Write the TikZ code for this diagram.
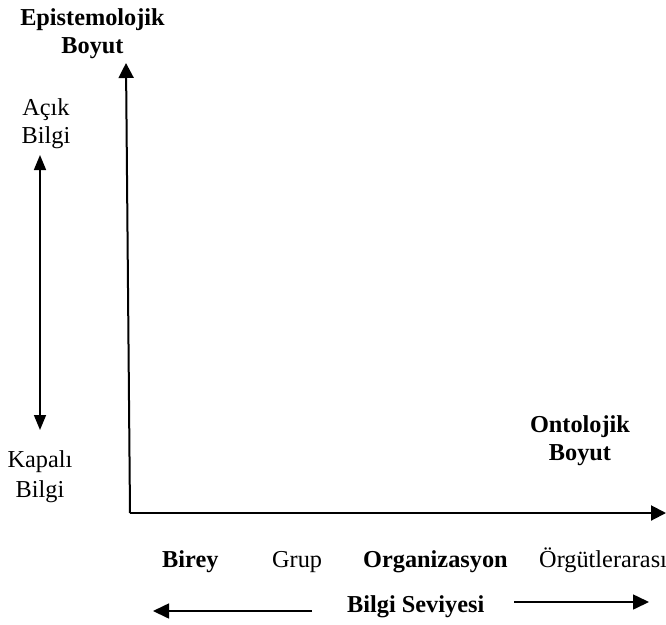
\documentclass[tikz,border=0pt]{standalone}
\usepackage{fontspec}
\setmainfont{Liberation Serif}
\usetikzlibrary{arrows.meta}
\tikzset{
  lbl/.style={font=\fontsize{24.3}{28}\selectfont, inner sep=0pt, align=center},
  blbl/.style={lbl, font=\fontsize{24.3}{28}\selectfont\bfseries},
  axis/.style={line width=2pt, -{Triangle[length=15pt,width=15pt]}},
  dbl/.style={line width=1.6pt, {Triangle[length=15pt,width=12pt]}-{Triangle[length=15pt,width=12pt]}},
  lvl/.style={line width=1.6pt, -{Triangle[length=16pt,width=15pt]}}
}
\begin{document}
\begin{tikzpicture}[x=1pt,y=-1pt]
  \useasboundingbox (0,0) rectangle (666,624);
  % axes
  \coordinate (O) at (130,513);
  \coordinate (ytip) at (126,63);
  \coordinate (xtip) at (666,513);
  \draw[axis] (O) -- (ytip);
  \draw[axis] (O) -- (xtip);
  % axis titles (anchored at the baseline of the last line)
  \node[blbl, anchor=base] (epi) at (92.5,53) {Epistemolojik\\Boyut};
  \node[blbl, anchor=base] (onto) at (580,460) {Ontolojik\\Boyut};
  % explicit vs tacit knowledge
  \node[lbl, anchor=base] (acik) at (46,143) {Açık\\Bilgi};
  \node[lbl, anchor=base, font=\fontsize{24.3}{30}\selectfont] (kapali) at (40,497) {Kapalı\\Bilgi};
  \coordinate (dtop) at (40,155);
  \coordinate (dbot) at (40,430);
  \draw[dbl] (dtop) -- (dbot);
  % knowledge levels
  \node[blbl, anchor=base west] (birey) at (162,567) {Birey};
  \node[lbl, anchor=base west] (grup) at (272,567) {Grup};
  \node[blbl, anchor=base west] (org) at (363,567) {Organizasyon};
  \node[lbl, anchor=base west] (orgut) at (539,567) {Örgütlerarası};
  \node[blbl, anchor=base west] (seviye) at (347,612) {Bilgi Seviyesi};
  \coordinate (lstart) at (312,611);
  \coordinate (ltip) at (153,611);
  \coordinate (rstart) at (514,602);
  \coordinate (rtip) at (649,602);
  \draw[lvl] (lstart) -- (ltip);
  \draw[lvl] (rstart) -- (rtip);
\end{tikzpicture}
\end{document}
